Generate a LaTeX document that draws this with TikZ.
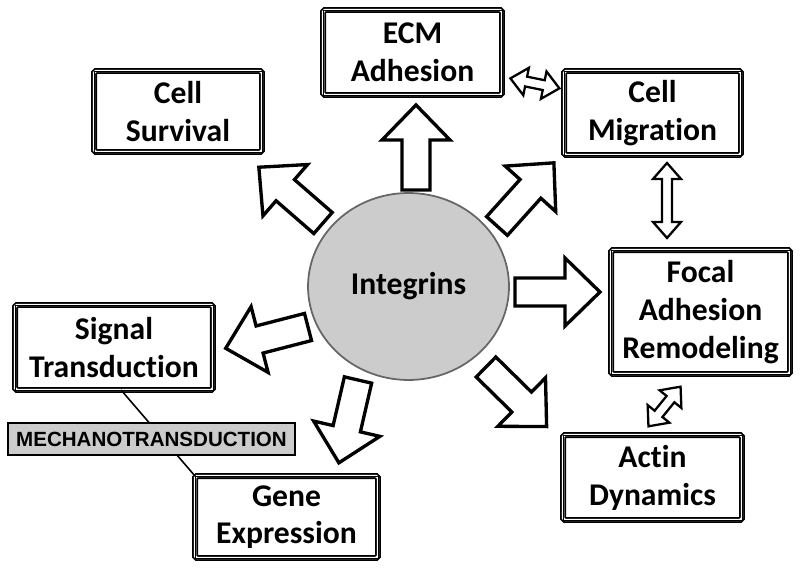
\documentclass[tikz,border=0pt]{standalone}
\usepackage{fontspec}
\setmainfont{Carlito}[Ligatures={NoCommon,NoRare}]
\newfontfamily\mechfont{Liberation Sans}
\usetikzlibrary{shapes.geometric}
\usetikzlibrary{calc}

\tikzset{
  labelbox/.style={draw, line width=1pt, double, double distance=1.4pt, rounded corners=1pt,
    fill=white, outer sep=0pt, inner sep=0pt, align=center,
    font=\fontsize{18}{21.5}\selectfont\bfseries},
  midline/.style={black, line width=0.5pt},
  blockarr/.pic={
    \draw[black, line width=1.9pt, fill=white, miter limit=10]
      (0,-14)--(50,-14)--(50,-34)--(85,0)--(50,34)--(50,14)--(0,14)--cycle;
  },
  dblarr/.pic={
    \draw[black, line width=1.3pt, fill=white, miter limit=10]
      (-#1,0)--(-#1+16,14)--(-#1+16,5)--(#1-16,5)--(#1-16,14)--(#1,0)
      --(#1-16,-14)--(#1-16,-5)--(-#1+16,-5)--(-#1+16,-14)--cycle;
  }
}

\begin{document}
\begin{tikzpicture}[x=0.02cm, y=0.02cm]
\useasboundingbox (0,0) rectangle (800,572);

% centre
\node[ellipse, draw=black!60, line width=1pt, fill=black!20, minimum width=4.02cm,
  minimum height=3.74cm, inner sep=0pt, font=\fontsize{18}{21.5}\selectfont\bfseries]
  (int) at (408.5,285.5) {Integrins};

% boxes
\node[labelbox, minimum width=3.58cm, minimum height=1.70cm] (ecm) at (412.5,519.5) {ECM\\Adhesion};
\node[labelbox, minimum width=3.36cm, minimum height=1.62cm] (surv) at (178,460.5) {Cell\\Survival};
\node[labelbox, minimum width=3.54cm, minimum height=1.68cm] (migr) at (652.5,459) {Cell\\Migration};
\node[labelbox, minimum width=3.58cm, minimum height=2.48cm] (focal) at (700.5,260) {Focal\\Adhesion\\Remodeling};
\node[labelbox, minimum width=3.58cm, minimum height=1.70cm] (actin) at (652.5,94.5) {Actin\\Dynamics};
\node[labelbox, minimum width=3.96cm, minimum height=1.70cm] (signal) at (114,224.5) {Signal\\Transduction};
\node[labelbox, minimum width=3.66cm, minimum height=1.64cm] (gene) at (286.5,55) {Gene\\Expression};

% middle lines of the frames
\foreach \b in {ecm,surv,migr,focal,actin,signal,gene}
  \draw[midline] (\b.south west) rectangle (\b.north east);

% signal -- gene, behind the grey label
\draw[black, line width=0.9pt] ([xshift=4pt]signal.south) -- (gene.north west);
\node[draw, line width=0.8pt, fill=black!20, minimum width=5.74cm, minimum height=0.64cm,
  inner sep=0pt, font=\mechfont\bfseries\fontsize{11.7}{14}\selectfont]
  (mech) at (151.5,133) {MECHANOTRANSDUCTION};

% arrows out of the centre
\pic[rotate=90] at ($(int)+(7.5,96.5)$) {blockarr};
\pic[rotate=139] at ($(int)+(-85.5,63.5)$) {blockarr};
\pic[rotate=48] at ($(int)+(88.5,60.5)$) {blockarr};
\pic[rotate=0] at ($(int)+(106.5,-5.5)$) {blockarr};
\pic[rotate=194.5] at ($(int)+(-100.5,-40.5)$) {blockarr};
\pic[rotate=257] at ($(int)+(-50.5,-93.5)$) {blockarr};
\pic[rotate=-44.5] at ($(int)+(77.5,-80.5)$) {blockarr};

% two-way arrows between boxes
\pic[rotate=-11.5] at ($(ecm)!0.51!(migr)$) {dblarr=25};
\pic[rotate=90] at ($(migr.south)+(14.5,-45.5)$) {dblarr=37.5};
\pic[rotate=51] at ($(actin.north)!0.5!(focal.south)+(-12,-2)$) {dblarr=25.5};

\end{tikzpicture}
\end{document}
